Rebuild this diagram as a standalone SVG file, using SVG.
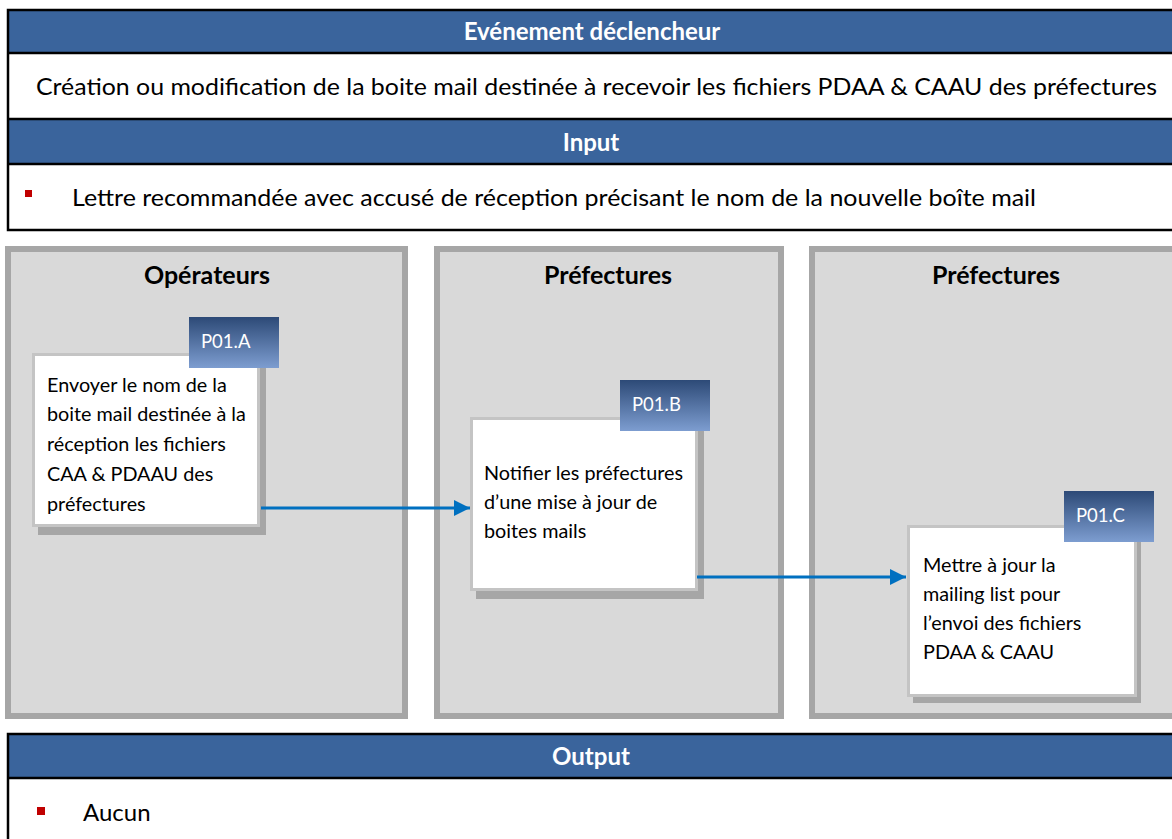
<svg xmlns="http://www.w3.org/2000/svg" width="1172" height="839" viewBox="0 0 1172 839">
<defs>
<linearGradient id="tagGrad" x1="0" y1="0" x2="0" y2="1">
<stop offset="0" stop-color="#2d4a77"/>
<stop offset="1" stop-color="#7d9dd0"/>
</linearGradient>
<marker id="arrow" viewBox="0 0 10 10" refX="10" refY="5" markerWidth="5.5" markerHeight="5.5" orient="auto" markerUnits="strokeWidth">
<path d="M0,0 L10,5 L0,10 z" fill="#0070c0"/>
</marker>
<style>
.hdr{fill:#3a649c;}
.tline{stroke:#000;stroke-width:2.5;fill:none;}
.htxt{font-family:Lato,"Open Sans",sans-serif;font-weight:bold;font-size:24px;fill:#fff;text-anchor:middle;}
.body{font-family:Lato,"Open Sans",sans-serif;font-size:24px;fill:#000;}
.lane{fill:#d9d9d9;stroke:#a6a6a6;stroke-width:6;}
.ltitle{font-family:Lato,"Open Sans",sans-serif;font-weight:bold;font-size:25px;fill:#000;text-anchor:middle;}
.shadow{fill:#a6a6a6;}
.box{fill:#fff;stroke:#c4c4c4;stroke-width:3;}
.ntxt{font-family:Lato,"Open Sans",sans-serif;font-size:19.8px;fill:#000;}
.tag{fill:url(#tagGrad);}
.tagtxt{font-family:Lato,"Open Sans",sans-serif;font-size:18.5px;fill:#fff;}
.bullet{fill:#c00000;}
.conn{stroke:#0070c0;stroke-width:3;fill:none;}
</style>
</defs>
<rect width="1172" height="839" fill="#fff"/>

<g id="trigger">
<rect class="hdr" x="8" y="10" width="1170" height="43"/>
<text class="htxt" x="592" y="40">Evénement déclencheur</text>
<text class="body" x="36" y="95" textLength="1121" lengthAdjust="spacingAndGlyphs">Création ou modification de la boite mail destinée à recevoir les fichiers PDAA &amp; CAAU des préfectures</text>
</g>
<g id="input">
<rect class="hdr" x="8" y="119" width="1170" height="45"/>
<text class="htxt" x="591" y="151">Input</text>
<rect class="bullet" x="25" y="190" width="7" height="7"/>
<text class="body" x="72" y="206" textLength="964" lengthAdjust="spacingAndGlyphs">Lettre recommandée avec accusé de réception précisant le nom de la nouvelle boîte mail</text>
</g>
<g id="table-lines">
<rect class="tline" x="8" y="10" width="1170" height="220"/>
<line class="tline" x1="8" y1="53" x2="1172" y2="53"/>
<line class="tline" x1="8" y1="119" x2="1172" y2="119"/>
<line class="tline" x1="8" y1="164" x2="1172" y2="164"/>
</g>

<g id="lane-operateurs">
<rect class="lane" x="8" y="249" width="397" height="467"/>
<text class="ltitle" x="207" y="284">Opérateurs</text>
</g>
<g id="lane-prefectures-1">
<rect class="lane" x="437" y="249" width="344" height="467"/>
<text class="ltitle" x="608" y="284">Préfectures</text>
</g>
<g id="lane-prefectures-2">
<rect class="lane" x="812" y="249" width="400" height="467"/>
<text class="ltitle" x="996" y="284">Préfectures</text>
</g>

<g id="node-P01A">
<rect class="shadow" x="38" y="359" width="228" height="176"/>
<rect class="box" x="33.5" y="354.5" width="225" height="171"/>
<text class="ntxt" x="47" y="392">Envoyer le nom de la</text>
<text class="ntxt" x="47" y="421">boite mail destinée à la</text>
<text class="ntxt" x="47" y="451">réception les fichiers</text>
<text class="ntxt" x="47" y="481">CAA &amp; PDAAU des</text>
<text class="ntxt" x="47" y="511">préfectures</text>
<rect class="tag" x="189" y="317" width="90" height="51"/>
<text class="tagtxt" x="201" y="348">P01.A</text>
</g>

<g id="node-P01B">
<rect class="shadow" x="476" y="423" width="228" height="176"/>
<rect class="box" x="471.5" y="418.5" width="225" height="171"/>
<text class="ntxt" x="484" y="480">Notifier les préfectures</text>
<text class="ntxt" x="484" y="509">d’une mise à jour de</text>
<text class="ntxt" x="484" y="538">boites mails</text>
<rect class="tag" x="620" y="380" width="90" height="51"/>
<text class="tagtxt" x="632" y="411">P01.B</text>
</g>

<g id="node-P01C">
<rect class="shadow" x="913" y="531" width="228" height="172"/>
<rect class="box" x="908.5" y="526.5" width="227" height="169"/>
<text class="ntxt" x="923" y="572">Mettre à jour la</text>
<text class="ntxt" x="923" y="601">mailing list pour</text>
<text class="ntxt" x="923" y="630">l’envoi des fichiers</text>
<text class="ntxt" x="923" y="659">PDAA &amp; CAAU</text>
<rect class="tag" x="1064" y="491" width="90" height="51"/>
<text class="tagtxt" x="1076" y="522">P01.C</text>
</g>

<g id="connectors">
<line class="conn" x1="261" y1="508" x2="470" y2="508" marker-end="url(#arrow)"/>
<line class="conn" x1="697" y1="577" x2="906" y2="577" marker-end="url(#arrow)"/>
</g>

<g id="output">
<rect class="hdr" x="8" y="734" width="1170" height="44"/>
<text class="htxt" x="591" y="765">Output</text>
<rect class="tline" x="8" y="734" width="1170" height="120"/>
<line class="tline" x1="8" y1="778" x2="1172" y2="778"/>
<rect class="bullet" x="37" y="807" width="8" height="8"/>
<text class="body" x="83" y="821">Aucun</text>
</g>
</svg>
